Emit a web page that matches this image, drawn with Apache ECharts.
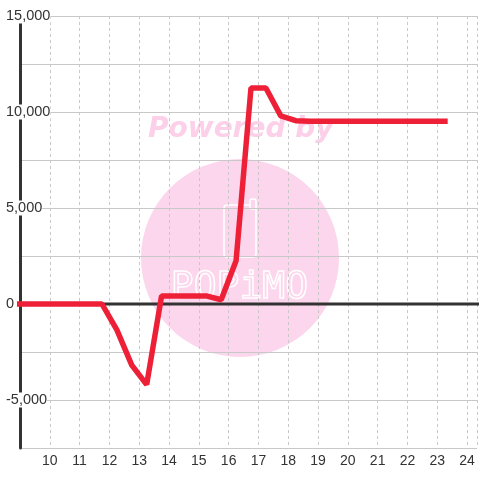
<!DOCTYPE html>
<html>
<head>
<meta charset="utf-8">
<script src="https://cdn.jsdelivr.net/npm/echarts@6/dist/echarts.min.js"></script>
<style>
  html, body { margin: 0; padding: 0; background: #fff; }
  #chart { width: 480px; height: 480px; }
</style>
</head>
<body>
<div id="chart"></div>
<script>
// 数据：时间（小时）和数值
var hours = [8.75, 9.25, 9.75, 10.25, 10.75, 11.25, 11.75, 12.25, 12.75, 13.25, 13.75, 14.25,
  14.75, 15.25, 15.75, 16.25, 16.75, 17.25, 17.75, 18.25, 18.75, 19.25, 19.75, 20.25,
  20.75, 21.25, 21.75, 22.25, 22.75, 23.35];
var values = [0, 0, 0, 0, 0, 0, 0, -1350, -3180, -4200, 420, 420,
  420, 420, 220, 2250, 11250, 11250, 9800, 9550, 9520, 9520, 9520, 9520,
  9520, 9520, 9520, 9520, 9520, 9520];
var zeroLine = [[8, 0], [25, 0]];
var yLabelStep = 5000;

var myChart = echarts.init(document.getElementById("chart"));

var option = {
  animation: false,
  grid: { left: 20, right: 0, top: 16, bottom: 32 },
  // 水印
  graphic: [
    {
      type: "circle",
      z: -10,
      shape: { cx: 240, cy: 258, r: 99 },
      style: { fill: "#fcd6ec" }
    },
    {
      type: "text",
      z: -10,
      left: 148,
      top: 116,
      style: {
        text: "Powered by",
        fill: "#fbd0e8",
        font: "italic bold 28px 'DejaVu Sans'"
      }
    },
    {
      type: "rect",
      z: -9,
      shape: { x: 224, y: 205, width: 32, height: 52, r: 3 },
      style: { fill: "none", stroke: "#fff", lineWidth: 1.5 }
    },
    {
      type: "rect",
      z: -9,
      shape: { x: 250, y: 199, width: 6, height: 10, r: 2 },
      style: { fill: "#fcd6ec", stroke: "#fff", lineWidth: 1.5 }
    },
    {
      type: "text",
      z: -9,
      left: 170,
      top: 268,
      style: {
        text: "POPiMO",
        fill: "none",
        stroke: "#fff",
        lineWidth: 1.5,
        font: "38px 'DejaVu Sans Mono'"
      }
    }
  ],
  xAxis: {
    type: "value",
    min: 9,
    max: 24.3334,
    interval: 1,
    axisLine: { show: false },
    axisTick: { show: false },
    axisLabel: {
      margin: 6,
      color: "#333",
      fontSize: 14,
      fontFamily: "Liberation Sans",
      formatter: function (v) {
        return (Number.isInteger(v) && v >= 10) ? String(v) : "";
      }
    },
    splitLine: {
      show: true,
      lineStyle: { color: "#c8c8c8", type: [3, 3], width: 1 }
    }
  },
  yAxis: {
    type: "value",
    min: -7500,
    max: 15000,
    interval: 2500,
    axisLine: { show: true, lineStyle: { color: "#333", width: 3 } },
    axisTick: { show: false },
    axisLabel: {
      align: "left",
      margin: 14,
      color: "#333",
      fontSize: 14.5,
      fontFamily: "Liberation Sans",
      backgroundColor: "#fff",
      formatter: function (v) {
        if (v % yLabelStep !== 0) return "";
        return v.toLocaleString("en-US");
      }
    },
    splitLine: {
      show: true,
      lineStyle: { color: "#c8c8c8", width: 1 }
    }
  },
  series: [
    {
      // 零线
      type: "line",
      data: zeroLine,
      symbol: "none",
      silent: true,
      lineStyle: { color: "#333", width: 3 },
      z: 1
    },
    {
      type: "line",
      data: hours.map(function (h, i) { return [h, values[i]]; }),
      symbol: "none",
      lineStyle: { color: "#ee2037", width: 5.5 },
      z: 3
    }
  ]
};

myChart.setOption(option);
</script>
</body>
</html>
